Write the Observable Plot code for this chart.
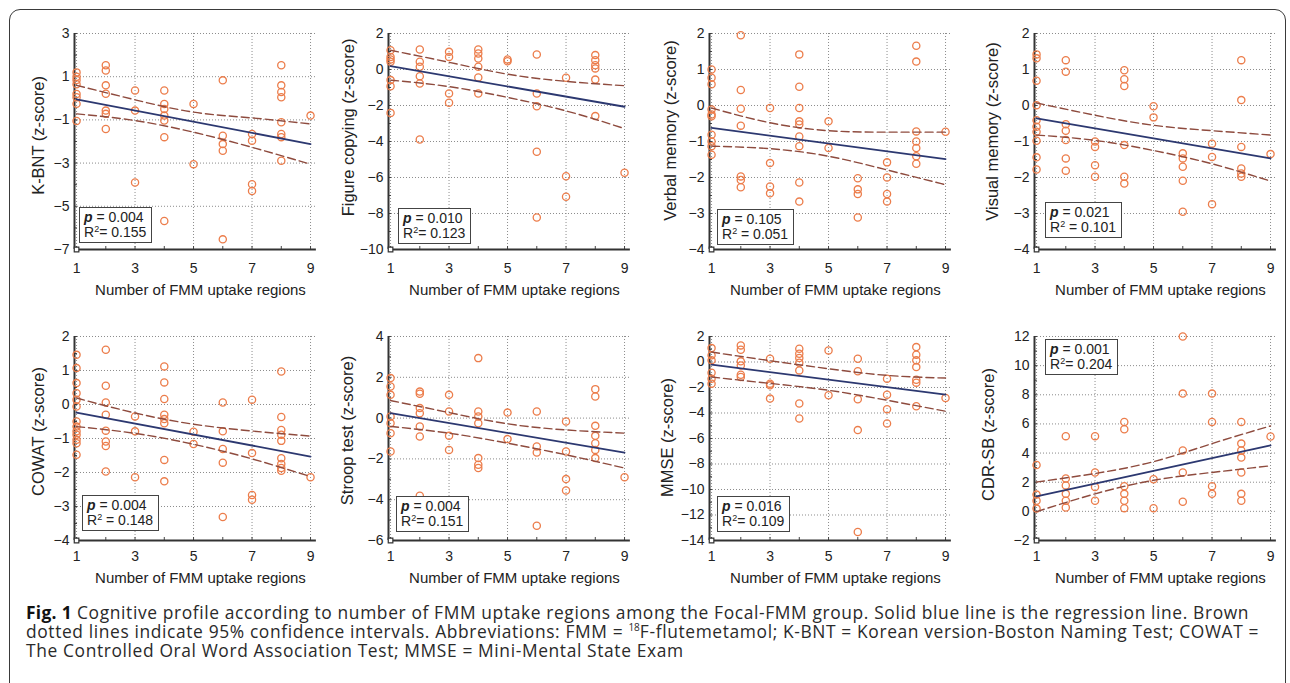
<!DOCTYPE html>
<html><head><meta charset="utf-8">
<script src="https://cdn.jsdelivr.net/npm/d3@7"></script>
<script src="https://cdn.jsdelivr.net/npm/@observablehq/plot@0.6"></script>
<style>
html,body{margin:0;padding:0;background:#fff;}
body{width:1290px;height:683px;overflow:hidden;position:relative;font-family:"Liberation Sans",Arial,sans-serif;}
#border{position:absolute;left:9px;top:9px;width:1277px;height:700px;border:1.5px solid #3a3a3a;border-radius:11px;box-sizing:border-box;}
.panel{position:absolute;}
.ann{position:absolute;border:1.5px solid #444;background:#fff;font:14px "Liberation Sans",Arial,sans-serif;line-height:15px;padding:2px 5px 2px 4px;white-space:nowrap;color:#222;}
.ann i{font-weight:bold;}
.ann sup{font-size:9px;line-height:0;vertical-align:5px;}
#caption{position:absolute;left:26px;top:603px;font-family:"Open Sans",sans-serif;font-size:17.4px;line-height:19px;letter-spacing:0.62px;color:#2a2a2a;white-space:nowrap;}
#caption b{color:#111;letter-spacing:0.3px;}
#caption sup{font-size:10px;line-height:0;vertical-align:7px;letter-spacing:0;}
</style></head><body>
<div id="border"></div>
<div id="caption"><b>Fig. 1</b> Cognitive profile according to number of FMM uptake regions among the Focal-FMM group. Solid blue line is the regression line. Brown<br>dotted lines indicate 95% confidence intervals. Abbreviations: FMM = <sup>18</sup>F-flutemetamol; K-BNT = Korean version-Boston Naming Test; COWAT =<br>The Controlled Oral Word Association Test; MMSE = Mini-Mental State Exam</div>
<script>
// ---------- data ----------
const panelLabels = ["K-BNT (z-score)", "Figure copying (z-score)", "Verbal memory (z-score)", "Visual memory (z-score)",
  "COWAT (z-score)", "Stroop test (z-score)", "MMSE (z-score)", "CDR-SB (z-score)"];
const xLabel = "Number of FMM uptake regions";
const xTicks = [1, 3, 5, 7, 9];
const xMinorTicks = [2, 4, 6, 8];
const xDomain = [0.93, 9.2];
const yDomains = [[-7, 3], [-10, 2], [-4, 2], [-4, 2], [-4, 2], [-6, 4], [-14, 2], [-2, 12]];
const yTicks = [
  [-7, -5, -3, -1, 1, 3],
  [-10, -8, -6, -4, -2, 0, 2],
  [-4, -3, -2, -1, 0, 1, 2],
  [-4, -3, -2, -1, 0, 1, 2],
  [-4, -3, -2, -1, 0, 1, 2],
  [-6, -4, -2, 0, 2, 4],
  [-14, -12, -10, -8, -6, -4, -2, 0, 2],
  [-2, 0, 2, 4, 6, 8, 10, 12]
];
const yMinorTicks = [
  [-6, -4, -2, 0, 2],
  [-9, -7, -5, -3, -1, 1],
  [-3.5, -2.5, -1.5, -0.5, 0.5, 1.5],
  [-3.5, -2.5, -1.5, -0.5, 0.5, 1.5],
  [-3.5, -2.5, -1.5, -0.5, 0.5, 1.5],
  [-5, -3, -1, 1, 3],
  [-13, -11, -9, -7, -5, -3, -1, 1],
  [-1, 1, 3, 5, 7, 9, 11]
];
// points: for each panel, the y values found at x = 1, 2, ..., 9
const kbntPoints = [
  [1.2, 1.0, 0.85, 0.65, 0.2, 0.05, -0.25, -1.05],
  [1.53, 1.29, 0.6, 0.21, -0.57, -0.72, -1.42],
  [0.36, -0.57, -3.9],
  [0.36, -0.26, -0.49, -0.8, -1.03, -1.8, -5.68],
  [-0.26, -3.05],
  [0.83, -1.73, -2.12, -2.43, -6.53],
  [-1.65, -1.96, -3.98, -4.29],
  [1.53, 0.6, 0.29, 0.05, -1.11, -1.65, -1.8, -2.89],
  [-0.8]
];
const figurePoints = [
  [1.07, 0.7, 0.56, 0.43, -0.59, -0.93, -2.41],
  [1.11, 0.43, 0.15, -0.37, -0.78, -3.89],
  [0.98, 0.7, -1.33, -1.85],
  [1.11, 0.89, 0.61, 0.15, -0.44, -1.33],
  [0.56, 0.46],
  [0.83, -1.33, -2.04, -4.57, -8.22],
  [-0.46, -5.93, -7.07],
  [0.8, 0.52, 0.24, 0.06, -0.56, -2.59],
  [-5.74]
];
const verbalPoints = [
  [1.0, 0.77, 0.59, -0.11, -0.25, -0.3, -0.81, -1.0, -1.13, -1.37],
  [1.95, 0.43, -0.09, -0.56, -1.97, -2.07, -2.27],
  [-0.07, -1.6, -2.25, -2.44],
  [1.42, 0.52, -0.07, -0.44, -0.53, -0.86, -1.13, -2.14, -2.67],
  [-0.44, -1.18],
  [-2.02, -2.33, -2.46, -3.11],
  [-1.58, -2.0, -2.46, -2.67],
  [1.66, 1.22, -0.72, -1.0, -1.18, -1.41, -1.62],
  [-0.73]
];
const visualPoints = [
  [1.42, 1.31, 0.69, 0.01, -0.41, -0.59, -0.73, -0.98, -1.44, -1.78],
  [1.26, 0.94, -0.52, -0.7, -0.96, -1.47, -1.81],
  [-1.0, -1.15, -1.66, -1.98],
  [0.98, 0.73, 0.54, -1.1, -1.98, -2.17],
  [-0.02, -0.33],
  [-1.33, -1.47, -1.7, -2.09, -2.95],
  [-1.06, -1.43, -2.74],
  [1.26, 0.15, -1.15, -1.75, -1.89, -1.98],
  [-1.35]
];
const cowatPoints = [
  [1.46, 1.07, 0.63, 0.33, 0.14, -0.06, -0.5, -0.65, -0.79, -0.89, -1.04, -1.14, -1.48],
  [1.61, 0.55, 0.06, -0.3, -0.77, -1.09, -1.22, -1.97],
  [-0.35, -0.79, -2.14],
  [1.12, 0.65, 0.16, -0.3, -0.43, -0.55, -1.63, -2.26],
  [-0.8, -1.16],
  [0.06, -0.79, -1.31, -1.71, -3.31],
  [0.14, -1.43, -2.66, -2.8],
  [0.97, -0.37, -0.75, -0.89, -1.07, -1.58, -1.75, -1.87, -1.95],
  [-2.14]
];
const stroopPoints = [
  [1.96, 1.55, 1.14, 0.08, -0.25, -0.74, -1.64],
  [1.3, 1.19, 0.49, 0.24, -0.41, -0.9, -3.81],
  [1.14, 0.32, -0.87, -1.56],
  [2.94, 0.32, 0.08, -0.25, -1.96, -2.29, -2.45],
  [0.27, -1.03],
  [0.32, -1.39, -1.69, -5.28],
  [-0.17, -1.64, -2.99, -3.55],
  [1.42, 1.06, -0.38, -0.87, -1.23, -1.56, -1.96],
  [-2.9]
];
const mmsePoints = [
  [1.09, 0.52, 0.13, -0.84, -1.31, -1.7],
  [1.3, 0.96, 0.05, -0.27, -1.0, -1.18],
  [0.26, -1.7, -1.83, -2.87],
  [1.04, 0.65, 0.31, -0.06, -0.66, -3.26, -4.43],
  [0.91, -2.61],
  [0.26, -0.73, -2.92, -5.34, -13.34],
  [-1.31, -2.56, -3.7, -4.82],
  [1.17, 0.57, 0.13, -0.4, -1.39, -1.62, -3.47],
  [-2.82]
];
const cdrPoints = [
  [3.18, 1.15, 0.73, 0.19],
  [5.16, 2.25, 1.78, 1.2, 0.73, 0.26],
  [5.16, 2.67, 1.67, 0.73],
  [6.14, 5.63, 1.73, 1.2, 0.73, 0.22],
  [2.2, 0.22],
  [12.0, 8.08, 4.18, 2.67, 0.66],
  [8.08, 6.14, 1.73, 1.2],
  [6.14, 4.65, 4.18, 3.69, 2.67, 1.2, 0.73],
  [5.14]
];
const allPoints = [kbntPoints, figurePoints, verbalPoints, visualPoints, cowatPoints, stroopPoints, mmsePoints, cdrPoints];
// regression line values at x = 1 and x = 9
const regX = [1, 9];
const regY = [[-0.05, -2.12], [0.19, -2.07], [-0.62, -1.49], [-0.36, -1.47], [-0.24, -1.53], [0.24, -1.69], [-0.21, -2.56], [1.03, 4.53]];
// 95% CI curves read at x = 1, 3, 5, 7, 9
const ciX = [1, 3, 5, 7, 9];
const ciUpper = [
  [0.6, -0.07, -0.64, -0.91, -1.19],
  [1.07, 0.4, -0.26, -0.66, -0.9],
  [-0.07, -0.48, -0.7, -0.74, -0.74],
  [0.07, -0.27, -0.55, -0.7, -0.82],
  [0.19, -0.25, -0.58, -0.78, -0.93],
  [0.86, 0.27, -0.28, -0.58, -0.74],
  [0.78, 0.1, -0.53, -1.05, -1.26],
  [2.01, 2.6, 3.41, 4.65, 5.86]
];
const ciLower = [
  [-0.72, -1.03, -1.57, -2.27, -3.05],
  [-0.59, -0.95, -1.55, -2.3, -3.28],
  [-1.13, -1.2, -1.41, -1.79, -2.2],
  [-0.82, -0.97, -1.25, -1.62, -2.1],
  [-0.65, -0.85, -1.17, -1.6, -2.12],
  [-0.41, -0.74, -1.23, -1.8, -2.45],
  [-1.18, -1.68, -2.22, -3.0, -3.86],
  [-0.02, 1.2, 2.13, 2.67, 3.13]
];
const pValues = ["0.004", "0.010", "0.105", "0.021", "0.004", "0.004", "0.016", "0.001"];
const r2Values = ["0.155", "0.123", "0.051", "0.101", "0.148", "0.151", "0.109", "0.204"];
const r2Spaced = [false, false, true, true, true, false, false, false];

// ---------- layout (positions / styles only) ----------
const colX1 = [76, 390, 711, 1036];     // pixel of x = 1 in each column
const rowTop = [33, 336], rowBottom = [249, 540];
const unitPx = 234 / 8;
const yLabelDx = [-36, -40, -39, -42, -36, -41, -42, -46];
const yLabelDy = [-6, -14, -11, -10, -7, -8, -1, -4];
const xLabelDy = [41, 38];
const xTickPad = [14, 11];
const annDx = [3, 8, 6, 9, 6, 6, 6, 9];
const annBottomGap = [4, 3, 2, 9, 7, 6, 6, null];
const annTopGap = [null, null, null, null, null, null, null, 3];

const orange = "#ec7d4b", navy = "#2c3870", brown = "#8e4b3e";
const noLabel = () => "";

for (let i = 0; i < 8; i++) {
  const col = i % 4, row = Math.floor(i / 4);
  const x1 = colX1[col];
  const top = rowTop[row], bottom = rowBottom[row];
  const frameL = x1 - (1 - xDomain[0]) * unitPx;
  const frameR = x1 + (xDomain[1] - 1) * unitPx;
  const ml = 80, mr = 8, mt = 10, mb = 56;
  const width = ml + (frameR - frameL) + mr;
  const height = mt + (bottom - top) + mb;

  const pts = allPoints[i].flatMap((ys, k) => ys.map(y => ({x: k + 1, y})));
  const reg = regX.map((x, k) => ({x, y: regY[i][k]}));
  const up = ciX.map((x, k) => ({x, y: ciUpper[i][k]}));
  const lo = ciX.map((x, k) => ({x, y: ciLower[i][k]}));
  const yd = yDomains[i];

  const chart = Plot.plot({
    width, height, marginLeft: ml, marginRight: mr, marginTop: mt, marginBottom: mb,
    style: {background: "transparent", overflow: "visible", fontFamily: "'Liberation Sans', Arial, sans-serif", color: "#222"},
    x: {domain: xDomain, axis: null},
    y: {domain: yd, axis: null},
    marks: [
      Plot.gridX(xTicks, {stroke: "#8a8a8a", strokeOpacity: 1, strokeWidth: 1, strokeDasharray: "1,2"}),
      Plot.gridY(yTicks[i], {stroke: "#8a8a8a", strokeOpacity: 1, strokeWidth: 1, strokeDasharray: "1,2"}),
      Plot.axisY(yTicks[i].concat(yMinorTicks[i]), {tickSize: -3, tickPadding: 0, tickFormat: noLabel, label: null, stroke: "#444"}),
      Plot.axisX(xTicks.concat(xMinorTicks), {tickSize: -3, tickPadding: 0, tickFormat: noLabel, label: null, stroke: "#444"}),
      Plot.axisX(xTicks, {tickSize: 0, tickPadding: xTickPad[row], fontSize: 14, label: null}),
      Plot.axisY(yTicks[i], {tickSize: 0, tickPadding: 5, fontSize: 14, label: null}),
      Plot.ruleX([xDomain[0]], {stroke: "#333", strokeWidth: 2}),
      Plot.ruleY([yd[0]], {stroke: "#333", strokeWidth: 2}),
      Plot.dot([{x: xTicks[0], y: yd[0]}], {x: "x", y: "y", symbol: "square", r: 2.6, stroke: "#333", strokeWidth: 1.2, fill: "white"}),
      Plot.dot(pts, {x: "x", y: "y", r: 3.6, stroke: orange, strokeWidth: 1.3, fill: "none"}),
      Plot.line(up, {x: "x", y: "y", curve: "natural", stroke: brown, strokeWidth: 1.4, strokeDasharray: "8,4"}),
      Plot.line(lo, {x: "x", y: "y", curve: "natural", stroke: brown, strokeWidth: 1.4, strokeDasharray: "8,4"}),
      Plot.line(reg, {x: "x", y: "y", stroke: navy, strokeWidth: 1.8}),
      Plot.text([panelLabels[i]], {text: d => d, frameAnchor: "left", textAnchor: "middle", lineAnchor: "middle", rotate: -90, dx: yLabelDx[i], dy: yLabelDy[i], fontSize: 16.5, fill: "#222"}),
      Plot.text([xLabel], {text: d => d, frameAnchor: "bottom", textAnchor: "middle", lineAnchor: "middle", dx: 5, dy: xLabelDy[row], fontSize: 15, fill: "#222"})
    ]
  });
  chart.classList.add("panel");
  chart.style.left = (frameL - ml) + "px";
  chart.style.top = (top - mt) + "px";
  document.body.appendChild(chart);

  const ann = document.createElement("div");
  ann.className = "ann";
  ann.innerHTML = `<i>p</i> = ${pValues[i]}<br>R<sup>2</sup>${r2Spaced[i] ? " " : ""}= ${r2Values[i]}`;
  ann.style.left = (x1 + annDx[i]) + "px";
  if (annTopGap[i] != null) ann.style.top = (top + annTopGap[i]) + "px";
  else ann.style.top = (bottom - annBottomGap[i] - 38) + "px";
  document.body.appendChild(ann);
}
</script>
</body></html>
